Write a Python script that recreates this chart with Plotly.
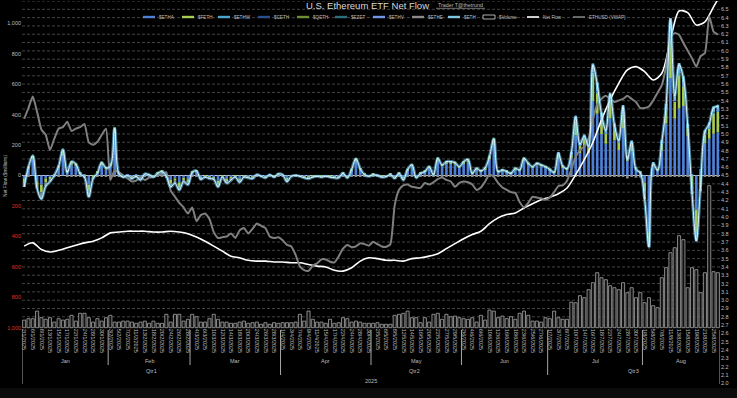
import plotly.graph_objects as go

# ---------------- categories (trading days, d/m/yyyy) ----------------
JAN = [2, 3, 6, 7, 8, 10, 13, 14, 15, 16, 17, 21, 22, 23, 24, 27, 28, 29, 30, 31]
FEB = [3, 4, 5, 6, 7, 10, 11, 12, 13, 14, 18, 19, 20, 21, 24, 25, 26, 27, 28]
MAR = [3, 4, 5, 6, 7, 10, 11, 12, 13, 14, 17, 18, 19, 20, 21, 24, 25, 26, 27, 28, 31]
APR = [1, 2, 3, 4, 7, 8, 9, 10, 11, 14, 15, 16, 17, 21, 22, 23, 24, 25, 28, 29, 30]
MAY = [1, 2, 5, 6, 7, 8, 9, 12, 13, 14, 15, 16, 19, 20, 21, 22, 23, 27, 28, 29, 30]
JUN = [2, 3, 4, 5, 6, 9, 10, 11, 12, 13, 16, 17, 18, 20, 23, 24, 25, 26, 27, 30]
JUL = [1, 2, 3, 7, 8, 9, 10, 11, 14, 15, 16, 17, 18, 21, 22, 23, 24, 25, 28, 29, 30, 31]
AUG = [1, 4, 5, 6, 7, 8, 11, 12, 13, 14, 15, 18, 19, 20, 21, 22, 25, 26]
MONTH_DAYS = [JAN, FEB, MAR, APR, MAY, JUN, JUL, AUG]
MONTH_NAMES = ["Jan", "Feb", "Mar", "Apr", "May", "Jun", "Jul", "Aug"]
QUARTERS = [("Qtr1", 0, 3), ("Qtr2", 3, 6), ("Qtr3", 6, 8)]
YEAR = "2025"

DATES = []
for m, days in enumerate(MONTH_DAYS, start=1):
    DATES += [f"{d}/{m}/2025" for d in days]
N = len(DATES)

# ---------------- daily net flows ($ millions) ----------------
ETHA = [-20, 45, 105, -40, -60, -20, -10, 10, 50, 130, 25, 70, 60, 15, 5, -60, 0, 20, 65, 40,
        60, 276, 15, 0, 5, -5, 5, -10, 15, 10, 0, 15, 25, 5, -30, -20, -45, -15, -25,
        20, 25, -10, 0, -5, -10, -35, 0, -20, -10, 0, -20, 0, -5, -5, 10, 0, -5, 10, 0, 10,
        10, -15, 0, 5, 0, -5, -5, 0, 0, 0, 0, 0, -5, -5, 15, -5, 35, 90, 40, 5, 0,
        5, 5, 0, 0, 5, -5, 14, -10, 35, 60, -5, 14, 25, 50, 5, 95, 60, 75, 75, 70, 50,
        75, 85, 15, 40, 28, 42, 105, 200, 25, 32, 24, 15, 40, 32, 95, 68, 50, 68, 60, 50,
        35, 20, 110, 55, 40, 111, 265, 148, 186, 144, 490, 405, 272, 209, 374, 232, 168, 310, 95, 159, 40, 20,
        -47, -375, 60, 30, 163, 342, 640, 373, 441, 457, 260, 10, -224, 43, 210, 242, 274, 284]
FETH = [-30, 15, 25, -30, -50, -25, -15, 0, 15, 40, 5, 25, 20, 5, -5, -40, -10, 5, 25, 15,
        20, 40, 5, -5, 0, -10, -5, -10, 0, 0, -5, 5, 5, -5, -25, -15, -30, -15, -20,
        5, 10, -10, -5, -10, -10, -25, -5, -20, -10, -5, -15, -5, -5, -10, 0, 0, -5, 0, -5, 5,
        0, -15, 0, 0, 0, -5, -10, -5, 0, -5, 0, -5, -5, -5, 5, -5, 10, 25, 10, 5, 0,
        5, 0, -5, -3, 5, -8, 5, -10, 10, 15, -5, 5, 5, 13, 5, 23, 14, 21, 21, 20, 13,
        21, 25, 4, 12, 7, 13, 25, 45, 5, 9, 6, 4, 12, 9, 23, 17, 13, 17, 14, 13,
        10, 5, 31, 12, 11, 30, 93, 50, 59, 42, 177, 132, 92, 67, 114, 72, 51, 93, 25, 50, 15, 10,
        -55, -55, 20, 15, 47, 91, 280, 110, 219, 130, 50, -80, -150, -70, 58, 68, 134, 135]
ETHE = [-25, -5, 0, -15, -45, -25, -15, -10, -5, 0, -10, -5, -5, -10, -10, -40, -10, -10, -5, -5,
        -20, -6, -10, -5, -5, -5, -5, -10, -5, -5, -5, -5, -5, -5, -20, -15, -20, -10, -15,
        -5, -5, -5, -5, -5, -5, -15, -5, -10, -10, -5, -10, -5, -5, -5, -5, -5, -5, -5, -5, -5,
        -5, -10, -5, -5, -5, -5, -5, -5, -5, -5, -5, -5, -5, -5, -5, -5, -5, -5, -5, -5, -5,
        -5, -5, -5, -5, -5, -5, -5, -10, -5, -5, -5, -5, -5, -5, -5, -5, -5, -5, -5, -5, -5,
        -5, -5, -5, -5, -5, -5, -5, -5, -5, -5, -5, -5, -5, -5, -5, -5, -5, -5, -5, -5,
        -5, -5, -5, -5, -5, -5, -10, -10, -10, -10, -10, -10, -10, -10, -10, -10, -10, -10, -20, -10, -15, -13,
        -37, -35, -7, -10, -10, -10, -10, -6, -10, -10, -10, -27, -30, -20, -10, -10, -10, -10]

# smaller funds, 1 Jul - 26 Aug only
JA_START = DATES.index("1/7/2025")
ETHW_JA = [0, 0, 3, 0, 0, 2, 6, 3, 4, 3, 10, 12, 8, 5, 9, 6, 4, 8, 0, 3, 0, 0,
           0, 0, 0, 0, 3, 5, 15, 5, 10, 8, 0, 0, -5, 0, 4, 5, 6, 6]
CETH_JA = [0, 0, 0, 0, 0, 0, 2, 0, 1, 0, 3, 3, 2, 1, 2, 1, 0, 2, 0, 0, 0, 0,
           0, 0, 0, 0, 0, 1, 4, 2, 3, 2, 0, 0, 0, 0, 1, 1, 2, 2]
QETH_JA = [0, 0, 0, 0, 0, 0, 1, 0, 0, 0, 2, 2, 1, 0, 1, 0, 0, 1, 0, 0, 0, 0,
           0, 0, 0, 0, 0, 0, 3, 1, 2, 1, 0, 0, 0, 0, 0, 1, 1, 1]
EZET_JA = [0, 0, 0, 0, 0, 0, 1, 1, 0, 0, 2, 2, 1, 1, 1, 1, 0, 1, 0, 0, 0, 0,
           0, 0, 0, 0, 1, 1, 3, 1, 2, 2, 0, 0, 0, 0, 1, 1, 1, 1]
ETHV_JA = [0, 0, 2, 0, 0, 2, 5, 3, 4, 3, 12, 10, 6, 4, 8, 5, 3, 8, 0, 3, 0, 0,
           -3, -5, 0, 0, 3, 6, 20, 8, 12, 10, 0, -3, -6, -3, 4, 5, 6, 6]
ETH_JA = [0, 0, 5, 0, 0, 10, 20, 10, 15, 10, 40, 45, 30, 20, 35, 25, 15, 40, 5, 15, 0, 0,
          -10, 0, 5, 0, 15, 25, 70, 30, 50, 40, 30, -10, -15, -10, 20, 25, 30, 30]

# daily ETF dollar volume ($ billions)
VOLUME = [0.38, 0.45, 0.45, 0.83, 0.50, 0.42, 0.50, 0.28, 0.45, 0.38, 0.42, 0.62, 0.33, 0.72, 0.72, 0.50, 0.28, 0.45, 0.33, 0.50,
          0.62, 0.28, 0.28, 0.33, 0.33, 0.28, 0.22, 0.28, 0.33, 0.22, 0.33, 0.22, 0.22, 0.67, 0.28, 0.67, 0.67, 0.33, 0.42,
          0.67, 0.55, 0.28, 0.28, 0.45, 0.67, 0.42, 0.28, 0.28, 0.22, 0.22, 0.28, 0.33, 0.22, 0.25, 0.28, 0.17, 0.25, 0.17, 0.25, 0.22,
          0.25, 0.25, 0.25, 0.28, 0.67, 0.33, 0.83, 0.42, 0.28, 0.28, 0.22, 0.42, 0.22, 0.25, 0.50, 0.45, 0.28, 0.33, 0.28, 0.22, 0.22,
          0.22, 0.25, 0.17, 0.17, 0.17, 0.62, 0.67, 0.72, 0.83, 0.50, 0.50, 0.25, 0.50, 0.28, 0.67, 0.72, 0.42, 0.67, 0.55, 0.58, 0.50,
          0.45, 0.42, 0.50, 0.28, 0.62, 0.38, 0.88, 0.83, 0.50, 0.58, 0.45, 0.55, 0.42, 0.72, 0.83, 0.62, 0.33, 0.33, 0.28, 0.50,
          0.45, 0.83, 0.50, 0.42, 0.42, 1.28, 1.25, 1.60, 1.50, 1.90, 2.25, 2.75, 2.50, 2.40, 2.10, 2.00, 1.90, 2.25, 1.75, 2.00, 1.50, 1.75,
          1.25, 1.50, 1.10, 1.00, 2.50, 3.00, 3.75, 4.00, 4.60, 4.40, 2.00, 3.00, 2.90, 1.75, 2.75, 7.10, 2.80, 2.75]

# cumulative "Net Flow" line (right axis units), read every second trading day + last day
NET_FLOW = [3.65, 3.69, 3.61, 3.58, 3.60, 3.63, 3.66, 3.69, 3.71, 3.75,
            3.81, 3.82, 3.83, 3.83, 3.83, 3.82, 3.82, 3.83, 3.82, 3.80,
            3.76, 3.71, 3.65, 3.59, 3.53, 3.51, 3.48, 3.47, 3.47, 3.46,
            3.46, 3.45, 3.45, 3.43, 3.41, 3.40, 3.36, 3.35, 3.39, 3.47,
            3.51, 3.50, 3.48, 3.48, 3.47, 3.50, 3.51, 3.53, 3.56, 3.62,
            3.68, 3.74, 3.79, 3.83, 3.92, 3.99, 4.03, 4.05, 4.11, 4.16,
            4.21, 4.24, 4.28, 4.35, 4.51, 4.69, 4.90, 5.17, 5.41, 5.61,
            5.77, 5.81, 5.75, 5.65, 5.73, 6.13, 6.48, 6.46, 6.31, 6.35,
            6.53, 6.62]
NET_FLOW_X = DATES[0::2] + [DATES[-1]]

# ETHUSD VWAP
ETHUSD = [3460, 3600, 3750, 3550, 3320, 3250, 3050, 3200, 3330, 3350, 3420, 3300, 3330, 3350, 3390, 3150, 3120, 3160, 3250, 3330,
          2660, 2780, 2760, 2720, 2680, 2640, 2650, 2700, 2660, 2690, 2700, 2720, 2740, 2760, 2520, 2440, 2360, 2300, 2220,
          2300, 2120, 2200, 2220, 2150, 1980, 1900, 1910, 1920, 1960, 1900, 2000, 2030, 1960, 2020, 2090, 2060, 2030, 1920, 1900, 1910,
          1870, 1810, 1790, 1680, 1530, 1480, 1470, 1540, 1570, 1620, 1620, 1590, 1580, 1660, 1760, 1810, 1780, 1790, 1830, 1820, 1800,
          1850, 1820, 1790, 1785, 1820, 2330, 2530, 2590, 2600, 2570, 2560, 2555, 2620, 2600, 2630, 2670, 2690, 2660, 2640, 2570, 2620,
          2640, 2630, 2600, 2530, 2560, 2640, 2730, 2700, 2620, 2560, 2530, 2500, 2490, 2370, 2300, 2360, 2440, 2430, 2420, 2400,
          2430, 2500, 2580, 2590, 2650, 2800, 2960, 3050, 3100, 3200, 3450, 3650, 3720, 3760, 3720, 3680, 3700, 3720, 3760, 3720, 3680, 3600,
          3600, 3620, 3700, 3800, 3900, 4150, 4530, 4580, 4560, 4450, 4350, 4250, 4140, 4280, 4320, 4800, 4600, 4560]

LEFT_TICKS = [-1000, -800, -600, -400, -200, 0, 200, 400, 600, 800, 1000]
RIGHT_MIN, RIGHT_MAX = 2.0, 6.6

# ---------------- layout geometry (pixels) ----------------
W, H = 737, 398
PL, PR = 22, 720
T_PX, B_PX = 1.0, 383.3
AX_PX = 327.7
ZERO_PX = 175.5
PX_PER_1000 = 152.2
VOL_PX_PER_UNIT = 20.0
FONT = "Liberation Sans, Arial, sans-serif"
TXT = "#bfbfbf"
RED = "#e0302a"


def PX(x):
    return (x - PL) / (PR - PL)


def PY(y):
    return 1 - y / H


dom = [1 - B_PX / H, 1 - T_PX / H]
y_lo = -(B_PX - ZERO_PX) / PX_PER_1000 * 1000
y_hi = (ZERO_PX - T_PX) / PX_PER_1000 * 1000
v_lo = -(B_PX - AX_PX) / VOL_PX_PER_UNIT
v_hi = (AX_PX - T_PX) / VOL_PX_PER_UNIT

COLORS = {"$ETHA": "#4f80d6", "$FETH": "#a8cc52", "$ETHW": "#4aa6cc", "$CETH": "#2d4f8e",
          "$QETH": "#6d8f32", "$EZET": "#2f6f7c", "$ETHV": "#7196e4", "$ETHE": "#8a8a8a",
          "$ETH": "#80c6e2"}

fig = go.Figure()
bw = 0.62
fig.add_bar(x=DATES, y=ETHA, name="$ETHA", marker_color=COLORS["$ETHA"], width=bw, marker_line_width=0)
fig.add_bar(x=DATES, y=FETH, name="$FETH", marker_color=COLORS["$FETH"], width=bw, marker_line_width=0)
xja = DATES[JA_START:]
for nm, vals in [("$ETHW", ETHW_JA), ("$CETH", CETH_JA), ("$QETH", QETH_JA),
                 ("$EZET", EZET_JA), ("$ETHV", ETHV_JA)]:
    fig.add_bar(x=xja, y=vals, name=nm, marker_color=COLORS[nm], width=bw, marker_line_width=0)
fig.add_bar(x=DATES, y=ETHE, name="$ETHE", marker_color=COLORS["$ETHE"], width=bw, marker_line_width=0)
fig.add_bar(x=xja, y=ETH_JA, name="$ETH", marker_color=COLORS["$ETH"], width=bw, marker_line_width=0)

# white cumulative line on right axis
fig.add_scatter(x=NET_FLOW_X, y=NET_FLOW, yaxis="y2", mode="lines", name="Net Flow",
                line=dict(color="#ffffff", width=1.6, shape="spline", smoothing=0.8))
# volume
fig.add_bar(x=DATES, y=VOLUME, yaxis="y3", name="$Volume", width=0.72,
            marker=dict(color="#121212", line=dict(color="#a6a6a6", width=0.8)))
# ETH price
fig.add_scatter(x=DATES, y=ETHUSD, yaxis="y4", mode="lines", name="ETHUSD (VWAP)",
                line=dict(color="#7f7f7f", width=2, shape="spline", smoothing=0.5))
# daily total line (glow)
TOTAL = []
for i in range(N):
    t = ETHA[i] + FETH[i] + ETHE[i]
    if i >= JA_START:
        j = i - JA_START
        t += ETHW_JA[j] + CETH_JA[j] + QETH_JA[j] + EZET_JA[j] + ETHV_JA[j] + ETH_JA[j]
    TOTAL.append(t)
fig.add_scatter(x=DATES, y=TOTAL, yaxis="y5", mode="lines", name="total glow",
                line=dict(color="rgba(105,195,235,0.6)", width=3.2, shape="spline", smoothing=1.0))
fig.add_scatter(x=DATES, y=TOTAL, yaxis="y5", mode="lines", name="total",
                line=dict(color="#e2f6ff", width=1.0, shape="spline", smoothing=1.0))

left_text = []
for v in LEFT_TICKS:
    s = f"{abs(v):,}"
    left_text.append(f'<span style="color:{RED}">{s}</span>' if v < 0 else s)

shapes = []
# bottom dim band
shapes.append(dict(type="rect", xref="paper", yref="paper", x0=PX(0), x1=PX(W), y0=PY(H), y1=PY(388),
                   fillcolor="#0b0b0b", line=dict(width=0), layer="below"))
# gridlines every 0.1 of right axis inside plot area
k = 27
while k <= 66:
    shapes.append(dict(type="line", xref="paper", yref="y2", x0=0, x1=1, y0=k / 10, y1=k / 10,
                       line=dict(color="#565656", width=0.8, dash="3px,2px"), layer="below"))
    k += 1

# multi-level category separators & labels
annotations = []


def note(x, y, text, size, color=TXT, xref="paper", xanchor="center", **kw):
    annotations.append(dict(x=x, y=y, xref=xref, yref="paper", text=text, showarrow=False,
                            xanchor=xanchor, yanchor="middle", font=dict(size=size, color=color), **kw))


starts = []
idx = 0
for days in MONTH_DAYS:
    starts.append(idx)
    idx += len(days)
starts.append(idx)
q_bounds = {starts[q[1]] for q in QUARTERS}
for b in starts:
    if b == 0 or b == N:
        y_end = 384
    elif b in q_bounds:
        y_end = 375
    else:
        y_end = 365
    shapes.append(dict(type="line", xref="x", yref="paper", x0=b - 0.5, x1=b - 0.5,
                       y0=PY(330), y1=PY(y_end), line=dict(color="#a6a6a6", width=1)))
for mi, nm in enumerate(MONTH_NAMES):
    note((starts[mi] + starts[mi + 1] - 1) / 2, PY(361), nm, 5.5, xref="x")
for nm, a, b in QUARTERS:
    note((starts[a] + starts[b] - 1) / 2, PY(371), nm, 5.5, xref="x")
note((N - 1) / 2, PY(381), YEAR, 5.5, xref="x")

# title / source
note(PX(367), PY(5.5), "U.S. Ethereum ETF Net Flow", 9.5, color="#d9d9d9")
note(PX(460), PY(5), "Trader T@thetrund", 5.3)
shapes.append(dict(type="line", xref="paper", yref="paper", x0=PX(436), x1=PX(485), y0=PY(8.3), y1=PY(8.3),
                   line=dict(color=TXT, width=0.6)))
# left axis title
note(PX(5), PY(176), "Net Flow ($millions)", 4.8, textangle=-90)

# custom legend
LEG_Y = 17
LEGEND = [("$ETHA", "bar", 143), ("$FETH", "bar", 182), ("$ETHW", "bar", 218), ("$CETH", "bar", 258),
          ("$QETH", "bar", 297), ("$EZET", "bar", 335), ("$ETHV", "bar", 373), ("$ETHE", "bar", 412),
          ("$ETH", "bar", 448), ("$Volume", "box", 483), ("Net Flow", "white", 527),
          ("ETHUSD (VWAP)", "gray", 573)]
for nm, kind, x0 in LEGEND:
    if kind == "bar":
        shapes.append(dict(type="rect", xref="paper", yref="paper", x0=PX(x0), x1=PX(x0 + 12),
                           y0=PY(LEG_Y + 1.2), y1=PY(LEG_Y - 1.2), fillcolor=COLORS[nm], line=dict(width=0)))
    elif kind == "box":
        shapes.append(dict(type="rect", xref="paper", yref="paper", x0=PX(x0), x1=PX(x0 + 12),
                           y0=PY(LEG_Y + 2), y1=PY(LEG_Y - 2), fillcolor="#000000",
                           line=dict(color="#d9d9d9", width=0.8)))
    else:
        col = "#ffffff" if kind == "white" else "#7f7f7f"
        shapes.append(dict(type="line", xref="paper", yref="paper", x0=PX(x0), x1=PX(x0 + 12),
                           y0=PY(LEG_Y), y1=PY(LEG_Y), line=dict(color=col, width=1.6)))
    note(PX(x0 + 14), PY(LEG_Y), nm, 4.6, xanchor="left")

fig.update_layout(
    width=W, height=H, margin=dict(l=PL, r=W - PR, t=0, b=0),
    paper_bgcolor="#000000", plot_bgcolor="#000000",
    barmode="relative", showlegend=False,
    font=dict(family=FONT, color=TXT, size=6),
    shapes=shapes, annotations=annotations,
    xaxis=dict(type="category", range=[-0.5, N - 0.5], anchor="free", position=1 - AX_PX / H,
               tickmode="array", tickvals=DATES[::2], ticktext=DATES[::2], tickangle=90,
               tickfont=dict(size=5.5, color=TXT), showgrid=False, zeroline=False, showline=False,
               ticks="", automargin=False),
    yaxis=dict(domain=dom, range=[y_lo, y_hi], tickmode="array", tickvals=LEFT_TICKS, ticktext=left_text,
               tickfont=dict(size=5.5, color=TXT), showgrid=False, zeroline=True,
               zerolinecolor="#cfcfcf", zerolinewidth=1, ticks="", showline=False, automargin=False),
    yaxis2=dict(overlaying="y", side="right", range=[RIGHT_MIN, RIGHT_MAX], tick0=RIGHT_MIN, dtick=0.1,
                tickformat=".1f", tickfont=dict(size=5.5, color=TXT), showgrid=False, zeroline=False,
                ticks="", showline=False, automargin=False),
    yaxis3=dict(overlaying="y", range=[v_lo, v_hi], visible=False),
    yaxis4=dict(overlaying="y", range=[0, 5000], visible=False),
    yaxis5=dict(overlaying="y", range=[y_lo, y_hi], visible=False),
)

fig.write_html("out.html", config={"displayModeBar": False},
               post_script="document.body.style.margin='0';document.body.style.background='#000';")
